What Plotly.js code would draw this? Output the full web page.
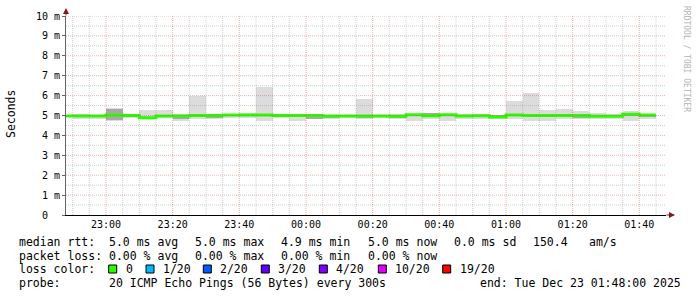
<!DOCTYPE html>
<html><head><meta charset="utf-8">
<script src="https://cdn.plot.ly/plotly-3.0.1.min.js"></script>
<style>html,body{margin:0;padding:0;background:#fff}#chart{width:697px;height:297px}</style>
</head><body><div id="chart"></div>
<script>
// ---- data (5-minute steps, value at step end) ----
const stepEnds = [
 '2025-12-22 22:50','2025-12-22 22:55','2025-12-22 23:00','2025-12-22 23:05','2025-12-22 23:10','2025-12-22 23:15',
 '2025-12-22 23:20','2025-12-22 23:25','2025-12-22 23:30','2025-12-22 23:35','2025-12-22 23:40','2025-12-22 23:45',
 '2025-12-22 23:50','2025-12-22 23:55','2025-12-23 00:00','2025-12-23 00:05','2025-12-23 00:10','2025-12-23 00:15',
 '2025-12-23 00:20','2025-12-23 00:25','2025-12-23 00:30','2025-12-23 00:35','2025-12-23 00:40','2025-12-23 00:45',
 '2025-12-23 00:50','2025-12-23 00:55','2025-12-23 01:00','2025-12-23 01:05','2025-12-23 01:10','2025-12-23 01:15',
 '2025-12-23 01:20','2025-12-23 01:25','2025-12-23 01:30','2025-12-23 01:35','2025-12-23 01:40','2025-12-23 01:45'];
// values in ms
const medianRtt = [4.97,4.97,4.97,5.03,5.00,4.89,4.97,4.97,5.00,5.00,5.03,5.03,5.03,5.00,5.00,5.00,4.98,4.98,
                   4.98,4.98,4.96,5.04,4.99,5.04,4.97,4.99,4.93,5.03,5.00,5.00,5.00,5.00,4.96,4.96,5.06,5.03];
const smokeMax  = [5.03,5.08,5.01,5.39,5.03,5.30,5.28,5.08,6.00,5.05,5.10,5.15,6.45,5.07,5.07,5.08,5.05,5.05,
                   5.85,5.05,5.06,5.10,5.15,5.08,5.06,5.10,5.05,5.72,6.13,5.29,5.34,5.25,5.14,5.08,5.24,5.10];
const smokeMin  = [4.92,4.81,4.84,4.74,4.85,4.81,4.87,4.74,4.81,4.81,4.87,4.87,4.74,4.85,4.74,4.81,4.84,4.87,
                   4.84,4.87,4.84,4.74,4.81,4.71,4.84,4.84,4.81,4.84,4.71,4.71,4.84,4.84,4.84,4.84,4.74,4.84];
const innerHi   = [5.02,5.02,5.00,5.33,5.03,4.95,5.01,4.99,5.06,5.01,5.06,5.06,5.07,5.07,5.03,5.01,5.01,5.01,
                   5.01,5.01,4.99,5.07,5.15,5.07,5.00,5.03,5.03,5.10,5.04,5.03,5.04,5.01,4.99,5.02,5.10,5.05];
const innerLo   = [4.93,4.93,4.93,4.77,4.96,4.85,4.93,4.81,4.95,4.88,4.99,4.99,4.98,4.98,4.96,4.81,4.89,4.94,
                   4.87,4.94,4.87,5.00,4.96,5.00,4.93,4.95,4.90,5.00,4.96,4.96,4.96,4.88,4.92,4.92,5.00,4.90];
const yTickVals = [0,1,2,3,4,5,6,7,8,9,10];
const yTickText = ['0\u00a0\u00a0','1 m','2 m','3 m','4 m','5 m','6 m','7 m','8 m','9 m','10 m'];
const lossLabels = ['0','1/20','2/20','3/20','4/20','10/20','19/20'];
const lossColors = ['#26ff00','#00b8ff','#0059ff','#5e00ff','#7e00ff','#dd00ff','#ff0000'];
const statLines = [
  ['median rtt:', '5.0 ms avg', '5.0 ms max', '4.9 ms min', '5.0 ms now', '0.0 ms sd', '150.4', 'am/s'],
  ['packet loss:', '0.00 % avg', '0.00 % max', '0.00 % min', '0.00 % now']
];
const probeText = ['probe:', '20 ICMP Echo Pings (56 Bytes) every 300s', 'end: Tue Dec 23 01:48:00 2025'];

// ---- helpers ----
const STEP = 300000;
const toMs = s => Date.parse(s.replace(' ', 'T') + ':00Z');
const msToStr = t => new Date(t).toISOString().replace('T', ' ').slice(0, 19);
const endMs = stepEnds.map(toMs);
const X_RANGE = ['2025-12-22 22:48', '2025-12-23 01:48'];
const Y_RANGE = [0, 10];
const L = 66, R = 666, T = 16, B = 215;
const px = x => (x - L) / (R - L);
const py = y => (B - y) / (B - T);

const traces = [
  { type:'bar', x:endMs.map(msToStr), base:smokeMin, y:smokeMax.map((v,i)=>v-smokeMin[i]), width:STEP, offset:-STEP,
    marker:{color:'#dcdcdc', line:{width:0}}, hoverinfo:'skip' },
  { type:'bar', x:endMs.map(msToStr), base:innerLo, y:innerHi.map((v,i)=>v-innerLo[i]), width:STEP, offset:-STEP,
    marker:{color:'#a8a8a8', line:{width:0}}, hoverinfo:'skip' },
  { type:'scatter', mode:'lines', x:endMs.map(t=>t-STEP).concat([endMs[endMs.length-1]]).map(msToStr),
    y:medianRtt.concat([medianRtt[medianRtt.length-1]]),
    line:{shape:'hv', color:lossColors[0], width:3}, hoverinfo:'skip' }
];

const mono = 'DejaVu Sans Mono';
const annotations = [];
const shapes = [];

// grid drawn above the data, as rrdtool does
const gridDash = '1px,1px';
const minorCol = 'rgba(150,150,150,0.45)', majorCol = 'rgba(222,80,80,0.45)';
const gridMinor = [], gridMajor = [];
const x0 = toMs(X_RANGE[0]), x1 = toMs(X_RANGE[1]);
for (let t = Math.ceil(x0 / STEP) * STEP; t <= x1; t += STEP) {
  const isMajor = (t % (4 * STEP)) === 0;
  (isMajor ? gridMajor : gridMinor).push({type:'line', xref:'x', yref:'paper', x0:msToStr(t), x1:msToStr(t), y0:0, y1:1,
    line:{color:isMajor?majorCol:minorCol, width:1, dash:gridDash}, layer:'above'});
}
for (let v = 0.5; v <= Y_RANGE[1]; v += 0.5) {
  const isMajor = Number.isInteger(v);
  (isMajor ? gridMajor : gridMinor).push({type:'line', xref:'paper', yref:'y', x0:0, x1:1, y0:v, y1:v,
    line:{color:isMajor?majorCol:minorCol, width:1, dash:gridDash}, layer:'above'});
}
shapes.push(...gridMinor, ...gridMajor);

function txt(text, x, y, size, extra) {
  annotations.push(Object.assign({text, xref:'paper', yref:'paper', x:px(x), y:py(y), xanchor:'left', yanchor:'middle',
    showarrow:false, font:{family:mono, size:size, color:'#000'}}, extra||{}));
}
const rowY = [241.5, 255.5, 269, 283];
const statX = [16.7, 107.3, 193.3, 279.3, 366, 451.7, 530.7, 586.7];
statLines.forEach((row, r) => row.forEach((s, i) => txt(s, statX[i], rowY[r], 11.5)));
txt('loss color:', 16.7, rowY[2], 11.5);
const sqX = [108.7, 146, 203.3, 261.3, 319.3, 378.3, 442.7];
lossLabels.forEach((lab, i) => {
  shapes.push({type:'rect', xref:'paper', yref:'paper', x0:px(sqX[i]), x1:px(sqX[i]+8), y0:py(273), y1:py(265),
    fillcolor:lossColors[i], line:{color:'#000', width:1}});
  txt(lab, sqX[i]+15, rowY[2], 11.5);
});
txt(probeText[0], 16.7, rowY[3], 11.5);
txt(probeText[1], 107.3, rowY[3], 11.5);
txt(probeText[2], 478.3, rowY[3], 11.5);
// y title
txt('Seconds', 11, 114, 11.5, {xanchor:'center', textangle:-90});
// watermark
txt('RRDTOOL / TOBI OETIKER', 687, 59, 8, {xanchor:'center', textangle:90, font:{family:mono, size:8, color:'#b4b4b4'}});
// axis arrows
annotations.push({xref:'paper', yref:'paper', x:px(66), y:py(8), ax:0, ay:9, text:'', showarrow:true,
  arrowhead:2, arrowsize:1.2, arrowwidth:1, arrowcolor:'#7f1a1a', standoff:0});
annotations.push({xref:'paper', yref:'paper', x:px(675), y:py(215), ax:-10, ay:0, text:'', showarrow:true,
  arrowhead:2, arrowsize:1.2, arrowwidth:1, arrowcolor:'#7f1a1a', standoff:0});

const layout = {
  width:697, height:297, margin:{l:L, r:697-R, t:T, b:297-B, pad:0},
  paper_bgcolor:'#fff', plot_bgcolor:'#fff', showlegend:false, barmode:'overlay', bargap:0,
  xaxis:{type:'date', range:X_RANGE, tickmode:'linear', tick0:'2025-12-22 23:00',
    dtick:4*STEP, tickformat:'%H:%M', showgrid:false,
    showline:true, linecolor:'#000', linewidth:1, ticks:'', zeroline:false, fixedrange:true, layer:'above traces',
    tickfont:{family:mono, size:10, color:'#000'}},
  yaxis:{range:Y_RANGE, tickmode:'array', tickvals:yTickVals, ticktext:yTickText, showgrid:false,
    showline:true, linecolor:'#666', linewidth:1, ticks:'outside', ticklen:3, tickcolor:'#666', zeroline:false,
    fixedrange:true, layer:'above traces', tickfont:{family:mono, size:10, color:'#000'}},
  annotations, shapes
};
Plotly.newPlot('chart', traces, layout, {staticPlot:true, displayModeBar:false});
</script></body></html>
